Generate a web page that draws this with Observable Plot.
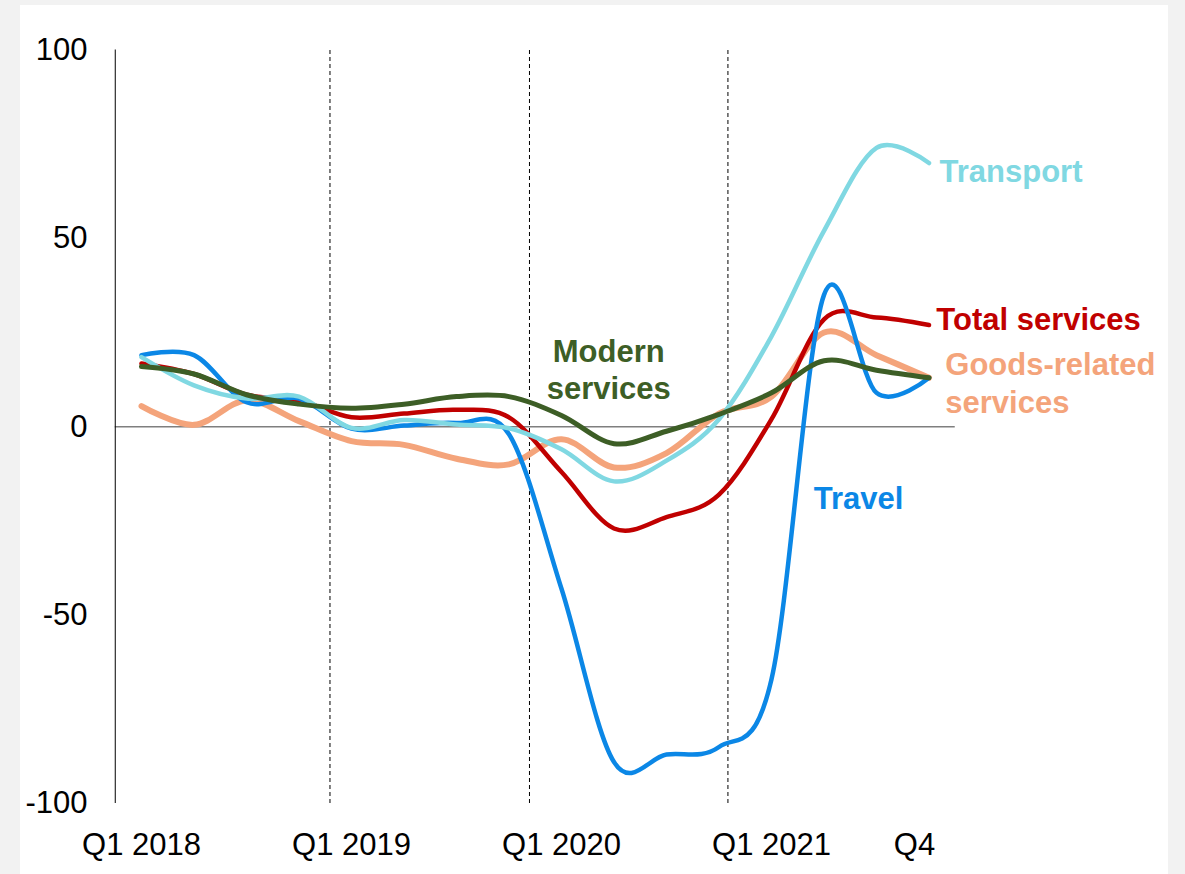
<!DOCTYPE html>
<html>
<head>
<meta charset="utf-8">
<script src="https://cdn.jsdelivr.net/npm/d3@7"></script>
<script src="https://cdn.jsdelivr.net/npm/@observablehq/plot@0.6"></script>
<style>
  html, body { margin: 0; padding: 0; background: #f2f2f2; width: 1185px; height: 874px; overflow: hidden; }
  #chart { position: absolute; left: 20px; top: 5px; width: 1148px; height: 869px; background: #ffffff; }
  #chart svg { display: block; }
</style>
</head>
<body>
<div id="chart"></div>
<script>
// Quarters Q1 2018 .. Q4 2021 (index 0..15)
const quarters = ["Q1 2018","Q2 2018","Q3 2018","Q4 2018","Q1 2019","Q2 2019","Q3 2019","Q4 2019",
                  "Q1 2020","Q2 2020","Q3 2020","Q4 2020","Q1 2021","Q2 2021","Q3 2021","Q4 2021"];
const xTickIndex = [0, 4, 8, 12];
const xTickLabels = ["Q1 2018", "Q1 2019", "Q1 2020", "Q1 2021"];
const lastTickIndex = [15];
const lastTickLabel = ["Q4"];
const yTicks = [-100, -50, 0, 50, 100];
const periodBreaks = [3.59, 7.39, 11.17];

const seriesNames = ["Goods-related services", "Total services", "Travel", "Transport", "Modern services"];
const goodsRelated = [5.5, 0.5, 7, 1.5, -3.8, -4.8, -8.5, -10, -3.3, -10.8, -7, 3.5, 8, 25, 19, 13];
const totalServices = [16.8, 14, 8.5, 7, 2.5, 3.5, 4.5, 2.5, -12, -27, -24, -18, 2, 28.5, 29, 27];
const travel = [19, 19, 6.5, 7.5, -0.5, 0.3, 1, -2, -43, -89, -87, -85, -67, 35, 9, 13];
const transport = [18.5, 11, 7.5, 8, -0.3, 1.8, 0.6, -0.4, -6, -14.5, -9, 2, 24, 52, 74, 70];
const modernServices = [16, 14, 8.5, 6, 4.9, 6, 8, 8, 3, -4.5, -1.2, 3.3, 9, 17.5, 15, 13];

const seriesValues = [goodsRelated, totalServices, travel, transport, modernServices];
const colors = {
  "Goods-related services": "#f4a47b",
  "Total services": "#c00000",
  "Travel": "#0b87e6",
  "Transport": "#80d8e2",
  "Modern services": "#3d5e26"
};
const widths = {
  "Goods-related services": 6,
  "Total services": 4.5,
  "Travel": 4.5,
  "Transport": 4.5,
  "Modern services": 5
};

const rows = [];
seriesNames.forEach((name, s) => {
  seriesValues[s].forEach((v, i) => rows.push({series: name, i, quarter: quarters[i], value: v}));
});

const font = "'Liberation Sans', Arial, Helvetica, sans-serif";

const lineMarks = seriesNames.map(name =>
  Plot.line(rows.filter(d => d.series === name), {
    x: "i", y: "value", stroke: colors[name], strokeWidth: widths[name],
    curve: "cardinal", strokeLinejoin: "round", strokeLinecap: "round"
  })
);

const labelStyle = {fontWeight: "bold", fontSize: 31, fontFamily: font};

const chart = Plot.plot({
  width: 1148,
  height: 869,
  marginLeft: 94.75,
  marginRight: 213.25,
  marginTop: 44.5,
  marginBottom: 71,
  x: {domain: [-0.5, 15.5], label: null},
  y: {domain: [-100, 100], label: null},
  style: {fontFamily: font, fontSize: "31px", background: "white", color: "black", overflow: "visible"},
  marks: [
    Plot.ruleX(periodBreaks, {y1: -100, y2: 100, stroke: "black", strokeWidth: 1, strokeDasharray: "4,3"}),
    Plot.ruleY([0], {stroke: "#7f7f7f", strokeWidth: 1.3}),
    Plot.ruleX([-0.5], {y1: -100, y2: 100, stroke: "black", strokeWidth: 1}),
    Plot.axisY({ticks: yTicks, tickSize: 0, tickPadding: 27.75, tickFormat: d => String(d), label: null,
                fontSize: 31, fontFamily: font, fill: "black"}),
    Plot.axisX({ticks: xTickIndex, tickSize: 0, tickPadding: 29, label: null,
                tickFormat: d => xTickLabels[xTickIndex.indexOf(d)], fontSize: 31, fontFamily: font, fill: "black"}),
    Plot.axisX({ticks: lastTickIndex, tickSize: 0, tickPadding: 29, dx: -14.5, label: null,
                tickFormat: d => lastTickLabel[lastTickIndex.indexOf(d)], fontSize: 31, fontFamily: font, fill: "black"}),
    ...lineMarks,
    Plot.text(["Transport"], {x: 15.2, y: 67.5, text: d => d, textAnchor: "start", fill: colors["Transport"], ...labelStyle}),
    Plot.text(["Total services"], {x: 15.14, y: 28.4, text: d => d, textAnchor: "start", fill: colors["Total services"], ...labelStyle}),
    Plot.text(["Goods-related\nservices"], {x: 15.31, y: 11.9, text: d => d, textAnchor: "start", lineHeight: 1.216, fill: colors["Goods-related services"], ...labelStyle}),
    Plot.text(["Modern\nservices"], {x: 8.9, y: 15.4, text: d => d, textAnchor: "middle", lineHeight: 1.206, fill: colors["Modern services"], ...labelStyle}),
    Plot.text(["Travel"], {x: 12.806, y: -19.2, text: d => d, textAnchor: "start", fill: colors["Travel"], ...labelStyle})
  ]
});
document.getElementById("chart").appendChild(chart);
</script>
</body>
</html>
